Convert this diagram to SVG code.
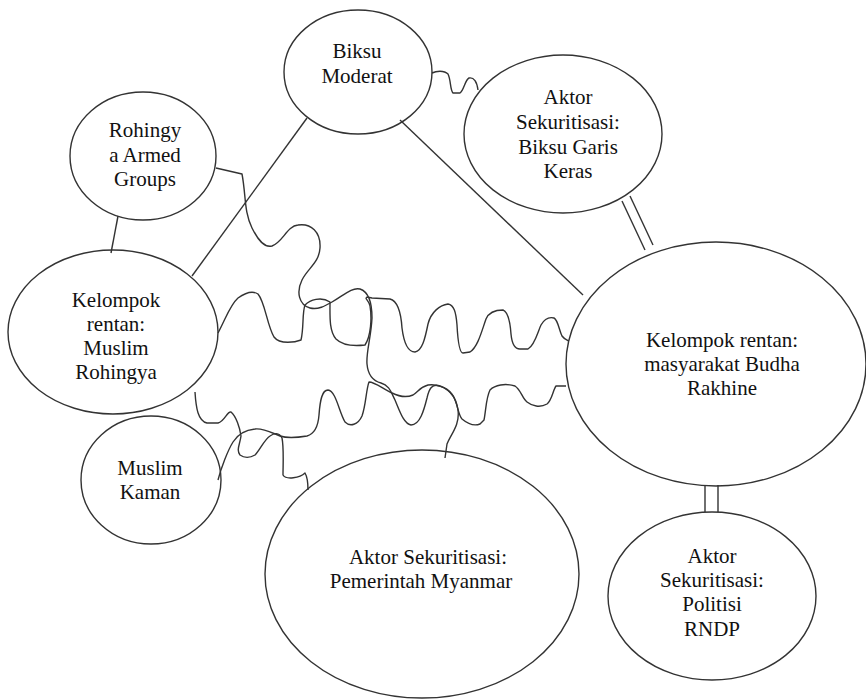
<svg xmlns="http://www.w3.org/2000/svg" width="866" height="700" viewBox="0 0 866 700">
<style>
.n{fill:none;stroke:#333;stroke-width:1.4}
.c{fill:none;stroke:#333;stroke-width:1.4;stroke-linejoin:round}
text{font-family:"Liberation Serif","Times New Roman",serif;font-size:21px;fill:#111;text-anchor:middle}
</style>
<rect width="866" height="700" fill="#fff"/>
<g id="connectors">
<line class="c" x1="307" y1="118" x2="192" y2="276"/>
<line class="c" x1="400" y1="120" x2="583" y2="295"/>
<line class="c" x1="118" y1="216" x2="111" y2="253"/>
<line class="c" x1="622" y1="201" x2="645" y2="250"/>
<line class="c" x1="630" y1="196" x2="653" y2="245"/>
<line class="c" x1="705" y1="485" x2="705" y2="512"/>
<line class="c" x1="718" y1="485" x2="718" y2="512"/>
<path class="c" d="M432,73 C436,71 444,70 448,74 C451,80 450,90 453,93 L460,93 C464,90 465,80 469,78 C474,77 477,82 478,90"/>
<path class="c" d="M216,168 L242,174 C246,195 244,212 252,228 C258,240 264,248 272,246 C283,242 287,226 298,225 C311,223 321,232 320,248 C319,263 308,268 302,280 C296,292 299,305 310,308 C318,310 325,306 332,302 C344,295 352,287 360,289 C369,292 372,305 372,318 C371,338 366,352 367,364 C368,375 373,381 381,383 C389,385 391,392 395,400 C400,412 404,424 411,425 C420,425 424,410 427,398 C429,389 432,383 440,386 C450,389 456,397 458,410 C460,425 451,434 447,444 L445,458"/>
<path class="c" d="M218,333 C226,318 230,305 238,298 C245,293 252,290 258,294 C265,302 267,325 274,337 C280,345 296,342 301,340 C304,328 302,313 305,305 C310,300 321,296 330,302 C330,316 329,331 336,339 C343,346 356,346 365,345 C371,336 372,318 370,306 C369,300 364,299 367,297 L372,298 L390,299 C398,301 401,313 402,328 C404,344 409,352 415,352 C422,351 425,339 428,324 C431,312 440,305 448,304 C454,305 456,312 457,325 C458,344 460,353 463,353 L470,352 C478,347 482,330 486,319 C489,312 496,310 503,310 C508,312 510,320 511,334 C512,345 515,349 520,349 L528,349 C535,345 538,331 541,325 C545,318 550,317 554,318 C558,320 559,330 562,336 C564,339 567,340 569,341"/>
<path class="c" d="M195,392 C196,408 198,421 207,423 L218,423 C225,421 227,411 231,412 C236,416 240,428 241,436 C240,444 236,450 240,455 C244,458 250,458 255,455 C260,450 264,440 270,436 C274,433 279,432 282,438 C284,448 283,465 283,475 C286,480 300,478 305,473 C308,478 308,484 308,490"/>
<path class="c" d="M218,480 C221,468 228,450 233,442 C238,434 245,430 255,429 C263,428 270,432 280,436 C286,438 295,438 307,436 C314,434 318,428 319,415 C320,400 322,390 328,390 C336,391 339,412 345,422 C350,427 358,425 362,416 C366,405 366,390 369,382 C375,382 383,389 392,393 C398,396 406,398 413,395 C418,392 420,387 428,385 C435,384 446,386 453,396 C458,404 458,415 462,419 C468,424 475,426 480,424 L484,420 C486,410 486,398 490,390 C495,385 505,383 515,386 C521,390 522,398 527,402 C532,406 540,408 547,404 C552,400 553,390 556,386 L566,386"/>
</g>
<g id="biksu-moderat">
<ellipse class="n" cx="358" cy="72" rx="74" ry="62"/>
<text x="357" y="58">Biksu</text>
<text x="357" y="83">Moderat</text>
</g>
<g id="rohingya-armed-groups">
<ellipse class="n" cx="143" cy="156" rx="73" ry="64"/>
<text x="145" y="137">Rohingy</text>
<text x="145" y="162">a Armed</text>
<text x="145" y="186">Groups</text>
</g>
<g id="biksu-garis-keras">
<ellipse class="n" cx="563" cy="134" rx="99" ry="79"/>
<text x="568" y="104">Aktor</text>
<text x="568" y="129">Sekuritisasi:</text>
<text x="568" y="154">Biksu Garis</text>
<text x="568" y="178">Keras</text>
</g>
<g id="muslim-rohingya">
<ellipse class="n" cx="113" cy="332" rx="105" ry="82"/>
<text x="116" y="307">Kelompok</text>
<text x="116" y="331">rentan:</text>
<text x="116" y="355">Muslim</text>
<text x="116" y="379">Rohingya</text>
</g>
<g id="budha-rakhine">
<ellipse class="n" cx="716" cy="364" rx="150" ry="122"/>
<text x="722" y="347">Kelompok rentan:</text>
<text x="722" y="371">masyarakat Budha</text>
<text x="722" y="395">Rakhine</text>
</g>
<g id="muslim-kaman">
<ellipse class="n" cx="151" cy="480" rx="70" ry="64"/>
<text x="150" y="475">Muslim</text>
<text x="150" y="499">Kaman</text>
</g>
<g id="pemerintah-myanmar">
<ellipse class="n" cx="422" cy="574" rx="157" ry="124"/>
<text x="428" y="564">Aktor Sekuritisasi:</text>
<text x="421" y="588">Pemerintah Myanmar</text>
</g>
<g id="politisi-rndp">
<ellipse class="n" cx="712" cy="596" rx="104" ry="84"/>
<text x="712" y="563">Aktor</text>
<text x="712" y="587">Sekuritisasi:</text>
<text x="712" y="611">Politisi</text>
<text x="712" y="636">RNDP</text>
</g>
</svg>
